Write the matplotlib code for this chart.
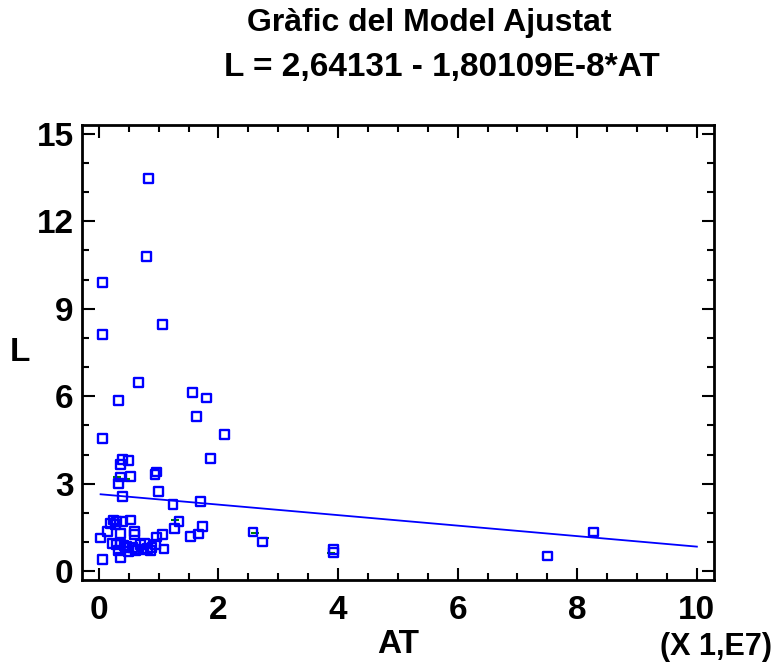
import numpy as np
import matplotlib
matplotlib.use("Agg")
import matplotlib.pyplot as plt
from matplotlib.ticker import MultipleLocator, FormatStrFormatter

plt.rcParams['font.family'] = ['Liberation Sans Narrow', 'Liberation Sans', 'DejaVu Sans']
plt.rcParams['font.weight'] = 'bold'

# dades observades (AT en unitats de 1E7)
at_vals = [0.83, 0.80, 0.06, 1.06, 0.06, 0.66, 0.33, 1.57, 1.80, 1.64,
           2.10, 0.06, 1.87, 0.39, 0.50, 0.36, 0.96, 0.94, 0.53, 0.36,
           0.33, 1.00, 0.39, 1.24, 1.70, 0.53, 1.34, 1.27, 1.74, 0.25,
           0.30, 0.19, 0.39, 0.03, 0.15, 0.36, 0.60, 0.60, 1.07, 0.96,
           1.53, 1.67, 0.22, 0.30, 0.36, 0.42, 0.47, 0.56, 0.64, 0.70,
           0.77, 0.81, 0.89, 0.95, 0.86, 0.75, 0.61, 0.33, 1.09, 0.06,
           0.36, 2.58, 2.74, 3.92, 3.92, 7.50, 8.27, 0.28, 0.45, 0.50]
l_vals = [13.46, 10.79, 9.90, 8.47, 8.12, 6.47, 5.86, 6.13, 5.94, 5.30,
          4.69, 4.55, 3.87, 3.83, 3.80, 3.66, 3.40, 3.32, 3.25, 3.23,
          3.00, 2.72, 2.57, 2.28, 2.39, 1.75, 1.69, 1.46, 1.54, 1.75,
          1.69, 1.63, 1.69, 1.14, 1.35, 1.29, 1.35, 1.26, 1.26, 1.17,
          1.20, 1.27, 0.96, 0.90, 0.93, 0.88, 0.85, 0.80, 0.75, 0.92,
          0.95, 0.78, 0.82, 0.90, 0.72, 0.74, 0.70, 0.72, 0.76, 0.41,
          0.46, 1.34, 1.00, 0.74, 0.63, 0.52, 1.34, 1.60, 0.82, 0.66]

# petites marques verdes
green_x = [0.30, 0.45, 1.28, 2.62, 2.78, 3.88]
green_y = [3.22, 3.17, 1.77, 1.30, 1.15, 0.62]

# model ajustat
intercept = 2.64131
slope = -1.80109e-8
scale = 1e7
fit_x = np.array([min(at_vals), 10.0])
fit_y = intercept + slope * fit_x * scale

fig = plt.figure(figsize=(7.74, 6.65), dpi=100)
ax = fig.add_axes([0.106, 0.128, 0.816, 0.684])

ax.plot(fit_x, fit_y, color='blue', linewidth=1.3, zorder=2)
ax.scatter(green_x, green_y, marker='_', color='green', s=40, linewidths=1.5, zorder=2)
ax.scatter(at_vals, l_vals, marker='s', s=40, facecolors='none',
           edgecolors='blue', linewidths=1.7, zorder=3)

ax.set_xlim(-0.28, 10.28)
ax.set_ylim(-0.3, 15.3)
ax.xaxis.set_major_locator(MultipleLocator(2))
ax.xaxis.set_minor_locator(MultipleLocator(0.5))
ax.yaxis.set_major_locator(MultipleLocator(3))
ax.yaxis.set_minor_locator(MultipleLocator(1))
ax.xaxis.set_major_formatter(FormatStrFormatter('%d'))
ax.yaxis.set_major_formatter(FormatStrFormatter('%d'))

ax.tick_params(which='both', direction='in', top=True, right=True, width=1.5)
ax.tick_params(which='major', length=9, labelsize=24)
ax.tick_params(which='minor', length=5)
ax.tick_params(axis='x', pad=11)
ax.tick_params(axis='y', pad=6)
for s in ax.spines.values():
    s.set_linewidth(2)

ax.set_xlabel('AT', fontsize=24, fontweight='bold', labelpad=2)
ax.set_ylabel('L', fontsize=24, fontweight='bold', rotation=0, va='center', ha='center')
ax.yaxis.set_label_coords(-0.098, 0.5)

fig.text(0.997, 0.005, '(X 1,E7)', fontsize=22, fontweight='bold', ha='right', va='bottom')
fig.text(0.555, 0.965, 'Gràfic del Model Ajustat', fontsize=23, fontweight='bold',
         ha='center', va='center')
fig.text(0.571, 0.898, 'L = 2,64131 - 1,80109E-8*AT', fontsize=24, fontweight='bold',
         ha='center', va='center')

fig.savefig('out.png', dpi=100)
